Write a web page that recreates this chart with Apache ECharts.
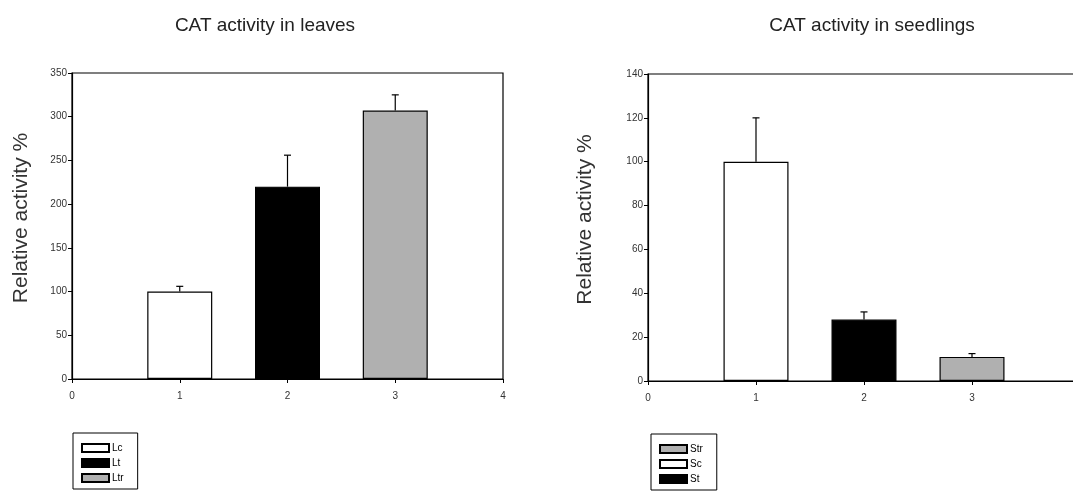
<!DOCTYPE html>
<html>
<head>
<meta charset="utf-8">
<script src="https://cdn.jsdelivr.net/npm/echarts@6/dist/echarts.min.js"></script>
<style>
  html, body { margin: 0; padding: 0; background: #fff; }
  #main { width: 1073px; height: 493px; }
</style>
</head>
<body>
<div id="main"></div>
<script>
// leaves panel
var leafNames = ['Lc', 'Lt', 'Ltr'];
var leafX = [1, 2, 3];
var leafMean = [100, 220, 307];
var leafErr = [6, 36, 18];

// seedlings panel
var seedNames = ['Sc', 'St', 'Str'];
var seedX = [1, 2, 3];
var seedMean = [100, 28, 11];
var seedErr = [20, 3.5, 1.5];
var seedLegendOrder = ['Str', 'Sc', 'St'];

var fills = ['#ffffff', '#000000', '#b0b0b0'];

var chart = echarts.init(document.getElementById('main'));

function barSeries(names, xs, means, axisIdx) {
    return names.map(function (n, i) {
        return {
            name: n,
            type: 'bar',
            xAxisIndex: axisIdx,
            yAxisIndex: axisIdx,
            barWidth: 65,
            barGap: '-100%',
            data: [[xs[i], means[i]]],
            itemStyle: { color: fills[i], borderColor: '#000', borderWidth: 1.2 },
            emphasis: { disabled: true }
        };
    });
}

function errSeries(xs, means, errs, axisIdx) {
    return {
        type: 'custom',
        xAxisIndex: axisIdx,
        yAxisIndex: axisIdx,
        z: 5,
        data: xs.map(function (x, i) { return [x, means[i], means[i] + errs[i]]; }),
        renderItem: function (params, api) {
            var base = api.coord([api.value(0), api.value(1)]);
            var top = api.coord([api.value(0), api.value(2)]);
            return {
                type: 'group',
                children: [
                    { type: 'line', shape: { x1: base[0], y1: base[1], x2: top[0], y2: top[1] }, style: { stroke: '#000', lineWidth: 1.2 } },
                    { type: 'line', shape: { x1: top[0] - 3.5, y1: top[1], x2: top[0] + 3.5, y2: top[1] }, style: { stroke: '#000', lineWidth: 1.2 } }
                ]
            };
        }
    };
}

function xAxisCfg(idx) {
    return {
        type: 'value', gridIndex: idx, min: 0, max: 4, interval: 1,
        axisLine: { lineStyle: { color: '#000', width: 1.2 } },
        axisTick: { show: true, length: 4, lineStyle: { color: '#000' } },
        axisLabel: { color: '#333', fontSize: 10, fontFamily: 'Liberation Sans', margin: 12 },
        splitLine: { show: false }
    };
}

function yAxisCfg(idx, max, interval, gap) {
    return {
        type: 'value', gridIndex: idx, min: 0, max: max, interval: interval,
        name: 'Relative activity %',
        nameLocation: 'middle',
        nameGap: gap,
        nameTextStyle: { fontSize: 21, color: '#333', fontFamily: 'Liberation Sans', padding: [0, 0, 0, 16] },
        axisLine: { show: true, lineStyle: { color: '#000', width: 1.2 } },
        axisTick: { show: true, length: 4, lineStyle: { color: '#000' } },
        axisLabel: { color: '#333', fontSize: 10, fontFamily: 'Liberation Sans', margin: 5 },
        splitLine: { show: false }
    };
}

var legendBase = {
    orient: 'vertical',
    icon: 'rect',
    itemWidth: 27,
    itemHeight: 8,
    itemGap: 5,
    borderColor: '#000',
    borderWidth: 1,
    padding: [10, 14, 6, 8],
    textStyle: { fontSize: 10, color: '#000', fontFamily: 'Liberation Sans', padding: [0, 0, 0, -2] },
    selectedMode: false
};

var option = {
    animation: false,
    backgroundColor: '#fff',
    title: [
        { text: 'CAT activity in leaves', left: 260, top: 11, textAlign: 'center',
          textStyle: { fontSize: 19, fontWeight: 'normal', color: '#222', fontFamily: 'Liberation Sans' } },
        { text: 'CAT activity in seedlings', left: 867, top: 11, textAlign: 'center',
          textStyle: { fontSize: 19, fontWeight: 'normal', color: '#222', fontFamily: 'Liberation Sans' } }
    ],
    legend: [
        Object.assign({}, legendBase, { left: 73, top: 433, data: leafNames }),
        Object.assign({}, legendBase, { left: 651, top: 434, data: seedLegendOrder })
    ],
    grid: [
        { left: 72, top: 73, width: 431, height: 306, show: true, borderColor: '#000', borderWidth: 1.2, outerBoundsMode: 'none' },
        { left: 648, top: 74, width: 432, height: 307, show: true, borderColor: '#000', borderWidth: 1.2, outerBoundsMode: 'none' }
    ],
    xAxis: [xAxisCfg(0), xAxisCfg(1)],
    yAxis: [yAxisCfg(0, 350, 50, 40), yAxisCfg(1, 140, 20, 52)],
    series: [].concat(
        barSeries(leafNames, leafX, leafMean, 0),
        [errSeries(leafX, leafMean, leafErr, 0)],
        barSeries(seedNames, seedX, seedMean, 1),
        [errSeries(seedX, seedMean, seedErr, 1)]
    )
};

chart.setOption(option);
</script>
</body>
</html>
